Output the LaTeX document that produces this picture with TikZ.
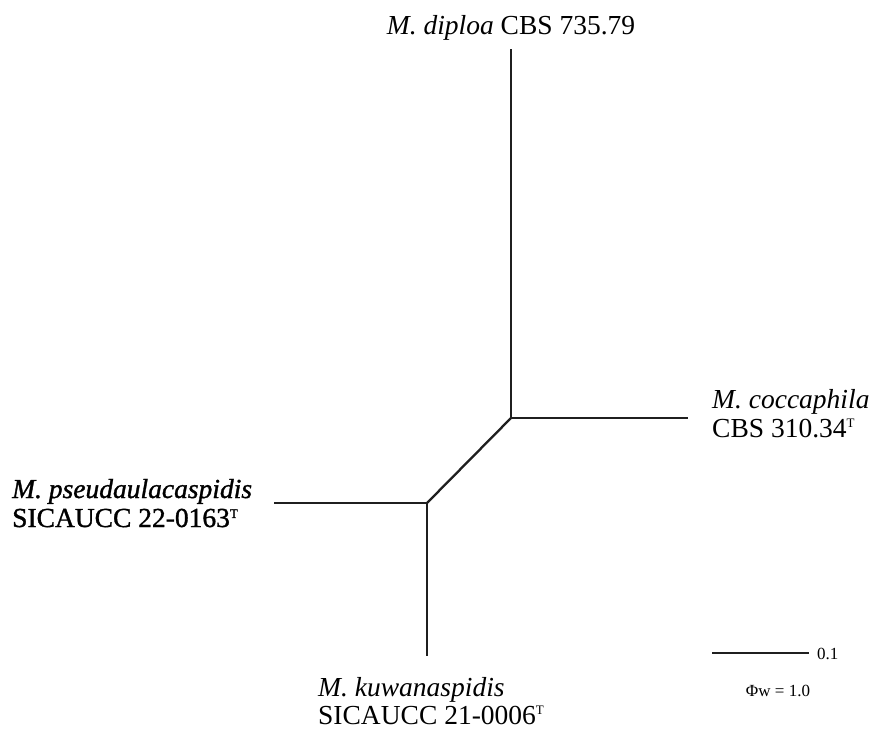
\documentclass[tikz,border=0pt]{standalone}
\usepackage{fontspec}
\setmainfont{Liberation Serif}
\newfontfamily\semibold{Liberation Serif}[FakeBold=1.2]
\tikzset{
  branch/.style={line width=2.3pt, draw=black!88, line cap=rect},
  lbl/.style={inner sep=0pt, anchor=base west, font=\fontsize{27.5}{29}\selectfont},
  lblc/.style={inner sep=0pt, anchor=base, font=\fontsize{27.5}{29}\selectfont},
  small/.style={inner sep=0pt, font=\fontsize{17}{19}\selectfont}
}
\newcommand{\typeT}{\textsuperscript{\fontsize{13}{13}\selectfont T}}
\begin{document}
\begin{tikzpicture}[x=1pt,y=-1pt]
\useasboundingbox (0,0) rectangle (870,729);
% tree nodes
\coordinate (A) at (511,418);
\coordinate (B) at (427,503);
\coordinate (tD) at (511,50);
\coordinate (tC) at (687,418);
\coordinate (tP) at (275,503);
\coordinate (tK) at (427,655);
\draw[branch] (tD) -- (A) -- (tC);
\draw[branch] (A) -- (B);
\draw[branch] (tP) -- (B) -- (tK);
% labels
\node[lblc] (lD) at (511,34) {\textit{M. diploa} CBS 735.79};
\node[lbl] (lC1) at (712,408) {\textit{M. coccaphila}};
\node[lbl] (lC2) at (712,437) {CBS 310.34\typeT};
\node[lbl, font=\fontsize{27.5}{29}\semibold] (lP1) at (12,498) {\textit{M. pseudaulacaspidis}};
\node[lbl, font=\fontsize{27.5}{29}\semibold] (lP2) at (12,527) {SICAUCC 22-0163\typeT};
\node[lbl] (lK1) at (318,696) {\textit{M. kuwanaspidis}};
\node[lbl] (lK2) at (318,724) {SICAUCC 21-0006\typeT};
% scale bar
\coordinate (s1) at (712,653);
\coordinate (s2) at (809,653);
\draw[line width=2.3pt, draw=black!88] (s1) -- (s2);
\node[small, anchor=base west] (sv) at (817,659) {0.1};
\node[small, anchor=base] (phi) at (778,696) {Φw = 1.0};
\end{tikzpicture}
\end{document}
